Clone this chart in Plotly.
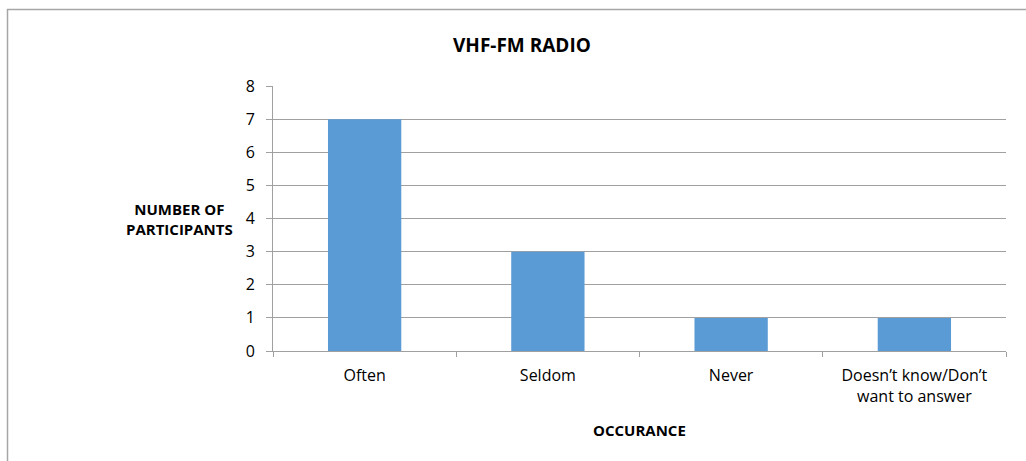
import plotly.graph_objects as go

categories = ["Often", "Seldom", "Never", "Doesn’t know/Don’t<br>want to answer"]
values = [7, 3, 1, 1]
y_ticks = [0, 1, 2, 3, 4, 5, 6, 7, 8]

W, H = 1026, 461
L, R, T, B = 273, 1006, 86, 351
pw, ph = R - L, B - T

def px(x):
    return (x - L) / pw

def py(y):
    return (B - y) / ph

FONT = "Open Sans"
fig = go.Figure(go.Bar(x=categories, y=values, marker=dict(color="#5B9BD5", line=dict(width=0)), width=0.4))

fig.update_layout(
    width=W, height=H,
    margin=dict(l=L, r=W - R, t=T, b=H - B),
    paper_bgcolor="white", plot_bgcolor="white",
    font=dict(family=FONT, size=16, color="black"),
    showlegend=False,
)
fig.update_xaxes(
    type="category", showgrid=False, showline=True, linecolor="#a0a0a0", linewidth=1,
    ticks="outside", tickson="boundaries", ticklen=5, tickcolor="#a0a0a0",
    tickfont=dict(family=FONT, size=16), fixedrange=True, ticklabelstandoff=10,
)
fig.update_yaxes(
    range=[0, 8], tickvals=y_ticks, showgrid=True, gridcolor="#a0a0a0", gridwidth=1,
    showline=True, linecolor="#a0a0a0", linewidth=1, ticks="outside", ticklen=6,
    tickcolor="#a0a0a0", tickfont=dict(family=FONT, size=16), zeroline=False,
    ticklabelstandoff=8, fixedrange=True,
)

fig.add_annotation(text="<b>VHF-FM RADIO</b>", x=px(522), y=py(45), xref="paper", yref="paper",
                   showarrow=False, font=dict(family=FONT, size=19), xanchor="center", yanchor="middle")
fig.add_annotation(text="<b>NUMBER OF<br>PARTICIPANTS</b>", x=px(179), y=py(219), xref="paper", yref="paper",
                   showarrow=False, font=dict(family=FONT, size=15), xanchor="center", yanchor="middle")
fig.add_annotation(text="<b>OCCURANCE</b>", x=px(639), y=py(430), xref="paper", yref="paper",
                   showarrow=False, font=dict(family=FONT, size=15), xanchor="center", yanchor="middle")

fig.add_shape(type="rect", xref="paper", yref="paper", x0=px(7.5), y0=py(475), x1=px(1040), y1=py(9.5),
              line=dict(color="#a6a6a6", width=1.5), fillcolor="rgba(0,0,0,0)", layer="below")

fig.write_html("out.html", config={"displayModeBar": False},
               post_script="document.body.style.margin='0';document.body.style.overflow='hidden';")
